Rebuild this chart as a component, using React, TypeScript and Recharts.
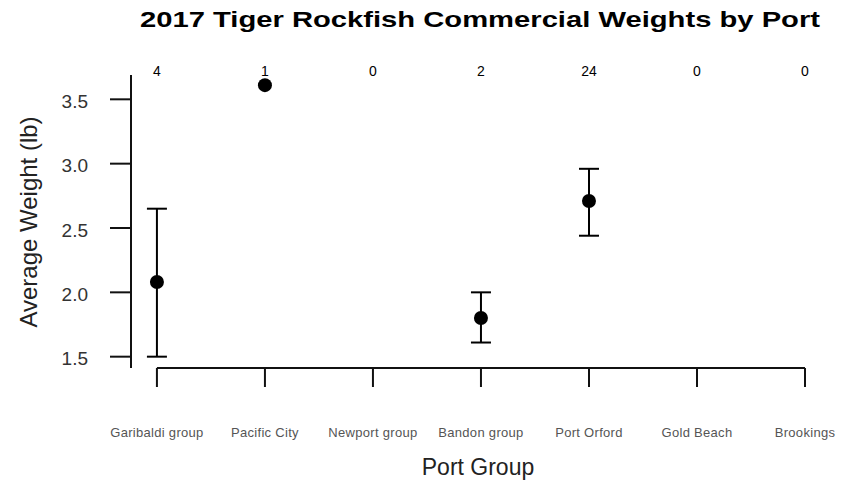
import React from 'react';
import {
  ComposedChart,
  Scatter,
  ErrorBar,
  XAxis,
  YAxis,
  ReferenceLine,
  Customized,
} from 'recharts';

const ports = [
  'Garibaldi group',
  'Pacific City',
  'Newport group',
  'Bandon group',
  'Port Orford',
  'Gold Beach',
  'Brookings',
];
const counts = [4, 1, 0, 2, 24, 0, 0];
const means: (number | null)[] = [2.08, 3.61, null, 1.8, 2.71, null, null];
const lows: (number | null)[] = [1.5, null, null, 1.61, 2.44, null, null];
const highs: (number | null)[] = [2.65, null, null, 2.0, 2.96, null, null];
const yTicks = [1.5, 2.0, 2.5, 3.0, 3.5];
const portIdx = ports.map((_, i) => i);

const data = ports
  .map((port, i) => {
    const m = means[i];
    const lo = lows[i];
    const hi = highs[i];
    return {
      port,
      idx: i,
      mean: m,
      err: m != null && lo != null && hi != null ? [m - lo, hi - m] : undefined,
    };
  })
  .filter((d) => d.mean != null);

const X_DOMAIN: [number, number] = [-0.24, 6];
const Y_DOMAIN: [number, number] = [1.412, 3.689];

const Dot = (props: any) => <circle cx={props.cx} cy={props.cy} r={7} fill="#000" />;

const PortTick = (props: any) => (
  <text
    x={props.x}
    y={props.y}
    dy={50}
    textAnchor="middle"
    fontSize={13}
    fontFamily="Liberation Sans, Arial, sans-serif"
    fill="#555"
    letterSpacing={0.3}
  >
    {ports[props.payload.value]}
  </text>
);

const CountTick = (props: any) => (
  <text
    x={props.x}
    y={props.y}
    dy={1}
    textAnchor="middle"
    fontSize={14}
    fontFamily="Liberation Sans, Arial, sans-serif"
    fill="#000"
  >
    {counts[props.payload.value]}
  </text>
);

const Titles = () => (
  <g>
    <text
      x={140}
      y={27}
      fontSize={22}
      fontWeight="bold"
      fontFamily="Liberation Sans, Arial, sans-serif"
      fill="#000"
      textLength={680}
      lengthAdjust="spacingAndGlyphs"
    >
      2017 Tiger Rockfish Commercial Weights by Port
    </text>
    <text
      x={478}
      y={475}
      textAnchor="middle"
      fontSize={23}
      fontFamily="Liberation Sans, Arial, sans-serif"
      fill="#222"
    >
      Port Group
    </text>
    <text
      x={37}
      y={222}
      transform="rotate(-90, 37, 222)"
      textAnchor="middle"
      fontSize={24}
      fontFamily="Liberation Sans, Arial, sans-serif"
      fill="#222"
    >
      Average Weight (lb)
    </text>
  </g>
);

export default function App() {
  return (
    <div style={{ position: 'absolute', left: 0, top: 0, width: 848, height: 485, background: '#fff' }}>
      <ComposedChart
        width={848}
        height={485}
        data={data}
        margin={{ top: 55, right: 43, bottom: 0, left: 0 }}
      >
        <XAxis
          xAxisId="top"
          orientation="top"
          type="number"
          dataKey="idx"
          domain={X_DOMAIN}
          allowDataOverflow
          ticks={portIdx}
          interval={0}
          height={20}
          axisLine={false}
          tickLine={false}
          tickSize={0}
          tickMargin={0}
          tick={<CountTick />}
        />
        <XAxis
          type="number"
          dataKey="idx"
          domain={X_DOMAIN}
          allowDataOverflow
          ticks={portIdx}
          interval={0}
          height={117}
          axisLine={false}
          tickLine={{ stroke: '#111', strokeWidth: 2 }}
          tickSize={19}
          tickMargin={0}
          tick={<PortTick />}
        />
        <YAxis
          type="number"
          domain={Y_DOMAIN}
          allowDataOverflow
          ticks={yTicks}
          interval={0}
          width={131}
          axisLine={{ stroke: '#111', strokeWidth: 2 }}
          tickLine={{ stroke: '#111', strokeWidth: 2 }}
          tickSize={21}
          tickMargin={22}
          tickFormatter={(v: number) => v.toFixed(1)}
          tick={{ fontSize: 19, fill: '#333', fontFamily: 'Liberation Sans, Arial, sans-serif', dy: 2 }}
        />
        <ReferenceLine
          segment={[
            { x: 0, y: Y_DOMAIN[0] },
            { x: 6, y: Y_DOMAIN[0] },
          ]}
          stroke="#111"
          strokeWidth={2}
          ifOverflow="visible"
        />
        <Scatter dataKey="mean" shape={<Dot />} isAnimationActive={false}>
          <ErrorBar dataKey="err" direction="y" width={10} stroke="#000" strokeWidth={2} />
        </Scatter>
        <Customized component={Titles} />
      </ComposedChart>
    </div>
  );
}
